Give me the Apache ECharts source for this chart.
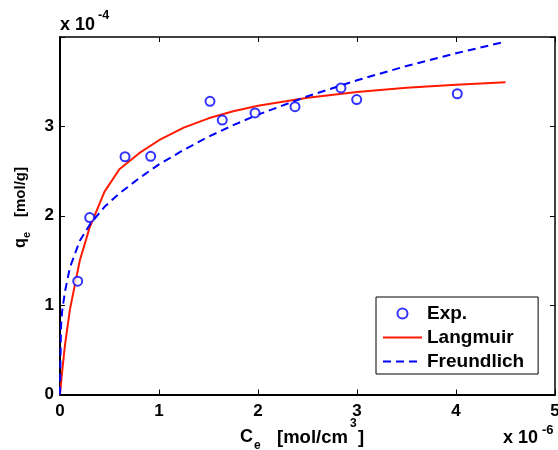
<!DOCTYPE html>
<html><head><meta charset="utf-8">
<script src="https://cdn.jsdelivr.net/npm/echarts@6/dist/echarts.min.js"></script>
<style>html,body{margin:0;padding:0;background:#fff}#c{width:558px;height:450px}</style>
</head><body><div id="c"></div>
<script>
// Experimental data (C in 1e-6 mol/cm3, q in 1e-4 mol/g)
const expC = [0.179, 0.30, 0.657, 0.916, 1.515, 1.639, 1.97, 2.374, 2.838, 2.997, 4.013];
const expQ = [1.268, 1.98, 2.66, 2.665, 3.28, 3.07, 3.15, 3.22, 3.43, 3.30, 3.365];
// Model curves
const curveC = [0, 0.01, 0.02, 0.05, 0.1, 0.2, 0.3, 0.45, 0.6, 0.8, 1.0, 1.25, 1.5, 1.75, 2.0, 2.5, 3.0, 3.5, 4.0, 4.5];
const langQ  = [0, 0.12, 0.24, 0.55, 0.95, 1.50, 1.87, 2.27, 2.52, 2.70, 2.845, 2.986, 3.090, 3.169, 3.230, 3.321, 3.384, 3.431, 3.467, 3.495];
const freuQ  = [0, 0.75, 0.92, 1.15, 1.42, 1.72, 1.90, 2.10, 2.25, 2.42, 2.575, 2.737, 2.884, 3.014, 3.131, 3.337, 3.516, 3.675, 3.818, 3.948];
const xTicks = [0, 1, 2, 3, 4, 5];
const yTicks = [0, 1, 2, 3, 4];
const names = ['Exp.', 'Langmuir', 'Freundlich'];

const FONT = 'Liberation Sans, Arial, sans-serif';
const chart = echarts.init(document.getElementById('c'), null, {renderer: 'canvas'});
const pair = (xs, ys) => xs.map((x, i) => [x, ys[i]]);
const lbl = {fontFamily: FONT, fontWeight: 'bold', fontSize: 17, color: '#000'};

const baseX = {type: 'value', min: xTicks[0], max: xTicks[xTicks.length - 1], interval: 1, splitLine: {show: false}};
const baseY = {type: 'value', min: yTicks[0], max: yTicks[yTicks.length - 1], interval: 1, splitLine: {show: false}};
const tick = {inside: true, length: 5, lineStyle: {color: '#000', width: 1}};

chart.setOption({
  animation: false,
  backgroundColor: '#fff',
  grid: {left: 60, right: 3, top: 37, bottom: 55.5, containLabel: false, outerBoundsMode: 'none'},
  xAxis: [
    Object.assign({}, baseX, {position: 'bottom',
      axisLine: {onZero: false, lineStyle: {color: '#000', width: 2}},
      axisTick: tick,
      axisLabel: Object.assign({margin: 8, formatter: v => String(v)}, lbl)}),
    Object.assign({}, baseX, {position: 'top',
      axisLine: {onZero: false, lineStyle: {color: '#000', width: 1.5}},
      axisTick: tick,
      axisLabel: {show: false}})
  ],
  yAxis: [
    Object.assign({}, baseY, {position: 'left',
      axisLine: {onZero: false, lineStyle: {color: '#000', width: 2}},
      axisTick: tick,
      axisLabel: Object.assign({margin: 6, formatter: v => (v === 4 ? '' : String(v))}, lbl)}),
    Object.assign({}, baseY, {position: 'right',
      axisLine: {onZero: false, lineStyle: {color: '#000', width: 1.5}},
      axisTick: tick,
      axisLabel: {show: false}})
  ],
  legend: {
    data: [
      {name: names[0]},
      {name: names[1], itemStyle: {opacity: 0}},
      {name: names[2], itemStyle: {opacity: 0}}
    ],
    orient: 'vertical', left: 376, top: 297,
    backgroundColor: '#fff', borderColor: '#000', borderWidth: 1, borderRadius: 0,
    padding: [7, 14, 3, 6], itemWidth: 39, itemHeight: 10, itemGap: 5,
    textStyle: {fontFamily: FONT, fontWeight: 'bold', fontSize: 19, color: '#000'},
    selectedMode: false
  },
  series: [
    {name: names[1], type: 'line', data: pair(curveC, langQ), showSymbol: false, symbol: 'none',
     lineStyle: {color: '#ff1a00', width: 2}, itemStyle: {color: '#ff1a00'}, z: 2},
    {name: names[2], type: 'line', data: pair(curveC, freuQ), showSymbol: false, symbol: 'none',
     lineStyle: {color: '#0000ff', width: 2, type: [8, 5]}, itemStyle: {color: '#0000ff'}, z: 3},
    {name: names[0], type: 'scatter', data: pair(expC, expQ), symbol: 'emptyCircle', symbolSize: 9,
     itemStyle: {color: '#0000ff', borderColor: '#0000ff', borderWidth: 2}, z: 4}
  ],
  graphic: [
    {type: 'text', left: 60, top: 16.5, style: {text: 'x 10', font: 'bold 18px ' + FONT, fill: '#000'}},
    {type: 'text', left: 98, top: 9, style: {text: '-4', font: 'bold 12.5px ' + FONT, fill: '#000'}},
    {type: 'text', left: 503, top: 429.5, style: {text: 'x 10', font: 'bold 18px ' + FONT, fill: '#000'}},
    {type: 'text', left: 542, top: 424, style: {text: '-6', font: 'bold 13px ' + FONT, fill: '#000'}},
    {type: 'text', left: 240, top: 428, style: {text: 'C', font: 'bold 18px ' + FONT, fill: '#000'}},
    {type: 'text', left: 254, top: 440, style: {text: 'e', font: 'bold 12px ' + FONT, fill: '#000'}},
    {type: 'text', left: 277, top: 428, style: {text: '[mol/cm', font: 'bold 18.5px ' + FONT, fill: '#000'}},
    {type: 'text', left: 350, top: 418, style: {text: '3', font: 'bold 12px ' + FONT, fill: '#000'}},
    {type: 'text', left: 358, top: 428, style: {text: ']', font: 'bold 18.5px ' + FONT, fill: '#000'}},
    {type: 'group', x: 21, y: 208, rotation: Math.PI / 2, children: [
      {type: 'text', x: -40, y: 0, style: {text: 'q', font: 'bold 16px ' + FONT, fill: '#000', textVerticalAlign: 'middle'}},
      {type: 'text', x: -30, y: 6, style: {text: 'e', font: 'bold 11px ' + FONT, fill: '#000', textVerticalAlign: 'middle'}},
      {type: 'text', x: -9, y: 0, style: {text: '[mol/g]', font: 'bold 15px ' + FONT, fill: '#000', textVerticalAlign: 'middle'}}
    ]}
  ]
});
</script></body></html>
